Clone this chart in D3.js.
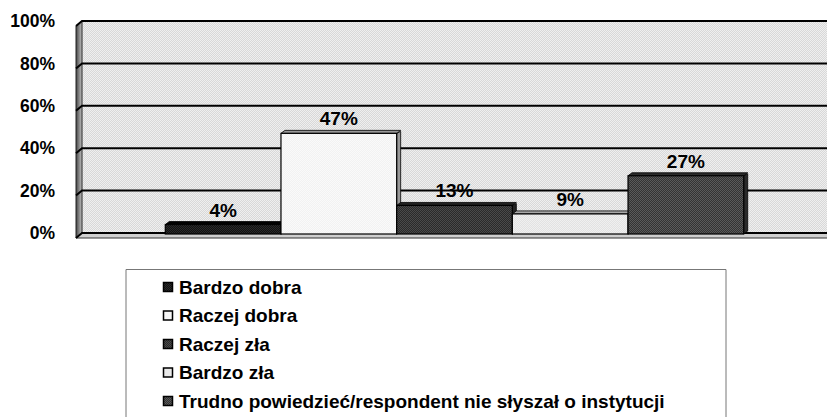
<!DOCTYPE html>
<html>
<head>
<meta charset="utf-8">
<script src="https://cdn.jsdelivr.net/npm/d3@7"></script>
<style>
  body { margin: 0; background: #fff; }
  svg { display: block; font-family: "Liberation Sans", Arial, sans-serif; font-weight: bold; }
</style>
</head>
<body>
<div id="chart"></div>
<script>
// survey answers, one bar per answer
const categories = ["Bardzo dobra", "Raczej dobra", "Raczej zła", "Bardzo zła",
  "Trudno powiedzieć/respondent nie słyszał o instytucji"];
const values = [4, 47, 13, 9, 27];
const yTicks = [0, 20, 40, 60, 80, 100];

const W = 827, H = 417;
const svg = d3.select("#chart").append("svg")
  .attr("width", W).attr("height", H);

const defs = svg.append("defs");
// halftone-ish fills like the scanned original
function checker(id, a, b) {
  const p = defs.append("pattern").attr("id", id)
    .attr("width", 2).attr("height", 2).attr("patternUnits", "userSpaceOnUse");
  p.append("rect").attr("width", 2).attr("height", 2).attr("fill", a);
  p.append("rect").attr("width", 1).attr("height", 1).attr("fill", b);
  p.append("rect").attr("x", 1).attr("y", 1).attr("width", 1).attr("height", 1).attr("fill", b);
}
checker("wall", "#d8d8d8", "#efefef");
checker("c0", "#111", "#2a2a2a");
checker("c1", "#f2f2f2", "#fafafa");
checker("c2", "#2a2a2a", "#4a4a4a");
checker("c3", "#e2e2e2", "#f0f0f0");
checker("c4", "#333", "#5a5a5a");
const sideCol = ["#000", "#999", "#222", "#aaa", "#2a2a2a"];

const left = 82, right = 827, dx = 6, dy = 5;
const y = d3.scaleLinear().domain([0, 100]).range([233, 21]);
const x = d3.scaleBand().domain(categories).range([left, right])
  .paddingInner(0).paddingOuter(0.72);

// back wall
svg.append("rect").attr("x", left).attr("y", y(100))
  .attr("width", right - left).attr("height", y(0) - y(100))
  .attr("fill", "url(#wall)");
// side wall
const sg = defs.append("linearGradient").attr("id", "side");
sg.append("stop").attr("offset", "0%").attr("stop-color", "#444");
sg.append("stop").attr("offset", "100%").attr("stop-color", "#c4c4c4");
svg.append("path")
  .attr("d", `M${left - dx},${y(100) + dy}L${left},${y(100)}L${left},${y(0)}L${left - dx},${y(0) + dy}Z`)
  .attr("fill", "url(#side)").attr("stroke", "#222").attr("stroke-width", 1);
// floor
svg.append("path")
  .attr("d", `M${left - dx},${y(0) + dy}L${left},${y(0)}L${right},${y(0)}L${right},${y(0) + dy}Z`)
  .attr("fill", "#cfcfcf");
svg.append("line").attr("x1", left - dx).attr("x2", right)
  .attr("y1", y(0) + dy).attr("y2", y(0) + dy).attr("stroke", "#333").attr("stroke-width", 1);

// gridlines
svg.append("g").selectAll("path").data(yTicks).join("path")
  .attr("d", d => `M${left - dx},${y(d) + dy}L${left},${y(d)}L${right},${y(d)}`)
  .attr("fill", "none").attr("stroke", "#000").attr("stroke-width", 2);

// tick labels
svg.append("g").selectAll("text").data(yTicks).join("text")
  .attr("x", 55).attr("y", d => y(d)).attr("dy", "0.35em")
  .attr("text-anchor", "end").attr("font-size", 17.5)
  .text(d => d + "%");

// 3D bars, drawn left to right so each covers its neighbour's side face
const bd = 4, bh = 3;
const bars = svg.append("g");
categories.forEach((c, i) => {
  const x0 = x(c), x1 = x0 + x.bandwidth(), yt = y(values[i]), yb = y(0) + 1;
  const g = bars.append("g");
  g.append("path")
    .attr("d", `M${x1},${yt}L${x1 + bd},${yt - bh + 1}L${x1 + bd},${yb - bh}L${x1},${yb}Z`)
    .attr("fill", sideCol[i]).attr("stroke", "#000").attr("stroke-width", 0.8);
  g.append("path")
    .attr("d", `M${x0},${yt}L${x0 + bd},${yt - bh}L${x1 + bd},${yt - bh}L${x1},${yt}Z`)
    .attr("fill", sideCol[i]).attr("stroke", "#000").attr("stroke-width", 0.8);
  g.append("rect")
    .attr("x", x0).attr("y", yt).attr("width", x.bandwidth()).attr("height", yb - yt)
    .attr("fill", `url(#c${i})`).attr("stroke", "#000").attr("stroke-width", 1.2);
});

// value labels
svg.append("g").selectAll("text").data(categories).join("text")
  .attr("x", d => x(d) + x.bandwidth() / 2)
  .attr("y", (d, i) => y(values[i]) - 8)
  .attr("text-anchor", "middle").attr("font-size", 19)
  .text((d, i) => values[i] + "%");

// legend
const lg = svg.append("g");
lg.append("path").attr("d", "M126,420V269.5H726V420")
  .attr("fill", "none").attr("stroke", "#777").attr("stroke-width", 1);
const items = lg.selectAll("g").data(categories).join("g")
  .attr("transform", (d, i) => `translate(163,${287 + i * 28.5})`);
items.append("rect").attr("x", 0.5).attr("y", -4.5).attr("width", 9).attr("height", 9)
  .attr("fill", (d, i) => `url(#c${i})`).attr("stroke", "#000").attr("stroke-width", 1.5);
items.append("text").attr("x", 16).attr("dy", "0.35em").attr("font-size", 19)
  .text(d => d);
</script>
</body>
</html>
